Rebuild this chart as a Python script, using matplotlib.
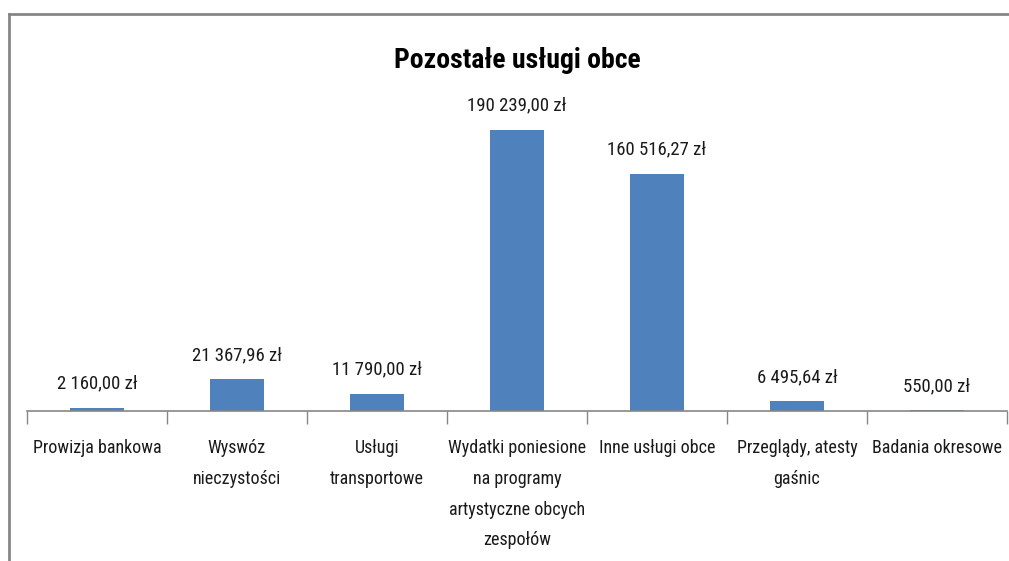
import matplotlib.pyplot as plt
from matplotlib.lines import Line2D
import numpy as np

categories = ['Prowizja bankowa', 'Wyswóz\nnieczystości', 'Usługi\ntransportowe',
              'Wydatki poniesione\nna programy\nartystyczne obcych\nzespołów',
              'Inne usługi obce', 'Przeglądy, atesty\ngaśnic', 'Badania okresowe']
values = [2160.00, 21367.96, 11790.00, 190239.00, 160516.27, 6495.64, 550.00]

plt.rcParams['font.family'] = ['Roboto Condensed', 'DejaVu Sans']

fig = plt.figure(figsize=(10.09, 5.61), dpi=100)
ax = fig.add_axes([27/1009, 150/561, 980/1009, 295.4/561])

x = np.arange(len(values))
bars = ax.bar(x, values, width=0.39, color='#4F81BD')

def fmt(v):
    return f"{v:,.2f}".replace(',', ' ').replace('.', ',') + ' zł'

for xi, v in zip(x, values):
    ax.annotate(fmt(v), (xi, v), xytext=(0, 11), textcoords='offset points',
                ha='center', va='bottom', fontsize=13.5, color='#1a1a1a')

ax.set_xlim(-0.5, len(values) - 0.5)
ax.set_ylim(0, 200000)
ax.set_xticks(x)
ax.set_xticklabels(categories, fontsize=13, linespacing=1.92, va='top', color='#1a1a1a')
ax.tick_params(axis='x', which='major', length=0, pad=20)
ax.set_xticks(np.arange(len(values) + 1) - 0.5, minor=True)
ax.tick_params(axis='x', which='minor', length=9, width=1, color='#868686')
ax.set_yticks([])
for side in ['left', 'right', 'top']:
    ax.spines[side].set_visible(False)
ax.spines['bottom'].set_color('#868686')
ax.spines['bottom'].set_linewidth(1.2)

fig.text(517/1009, 1 - 60/561, 'Pozostałe usługi obce', ha='center', va='center',
         fontsize=20, fontweight='bold')

# chart frame (top and left edges)
fig.add_artist(Line2D([9/1009, 1], [1 - 14/561, 1 - 14/561], color='#868686', lw=2))
fig.add_artist(Line2D([9/1009, 9/1009], [0, 1 - 14/561], color='#868686', lw=2))

fig.savefig('out.png', dpi=100)
